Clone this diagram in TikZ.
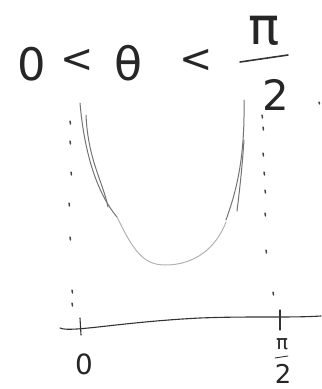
\documentclass[tikz,border=0pt]{standalone}
\usepackage{fontspec}
\setmainfont{DejaVu Sans}
\begin{document}
\begin{tikzpicture}[x=1bp,y=-1bp,
  ink/.style={draw=black!80, line width=1.1bp, line cap=round},
  pencil/.style={draw=black!55, line width=1bp, line cap=round},
  faint/.style={draw=black!30, line width=1bp, line cap=round},
  tick/.style={draw=black!75, line width=1.4bp, line cap=round},
  glyph/.style={inner sep=0pt, text=black!85}]
\useasboundingbox (0,0) rectangle (322,389);
% title
\node[glyph, font=\fontsize{45}{47}\selectfont] (zero) at (32,64) {0};
\node[glyph, font=\fontsize{40}{42}\selectfont] (lt1) at (77,61) {<};
\node[glyph, font=\fontsize{46}{48}\selectfont] (theta) at (129,63) {θ};
\node[glyph, font=\fontsize{40}{42}\selectfont] (lt2) at (196,61) {<};
\node[glyph, font=\fontsize{52}{54}\selectfont] (pi) at (264,31) {π};
\coordinate (barL) at (240,62);
\coordinate (barR) at (288,55);
\draw[ink, line width=1.6bp] (barL) -- (barR);
\node[glyph, font=\fontsize{42}{44}\selectfont] (two) at (276,95) {2};
% left dotted line
\foreach \y/\x in {121/70,141/70,172/71,203/69,237/70,290/72,303/72}
  \draw[tick] (\x,\y) -- (\x+0.5,\y+3);
% right dotted line
\foreach \y/\x in {115/262,127/263,153/263,172/264,190/265,213/265,250/266,292/273}
  \draw[tick] (\x,\y) -- (\x+0.5,\y+3);
% curve
\draw[pencil] (80,103) .. controls (84,150) and (96,192) .. (117,217);
\draw[pencil] (86,115) .. controls (88,160) and (103,182) .. (108,207);
\draw[faint] (117,217) .. controls (133,250) and (143,265) .. (165,265) .. controls (195,265) and (216,248) .. (226,222);
\draw[pencil] (244,100) .. controls (245,160) and (236,192) .. (226,220);
\draw[pencil] (244,140) .. controls (242,170) and (239,195) .. (237,211);
% axis
\coordinate (axL) at (60,328);
\coordinate (axR) at (321,316);
\draw[ink] (axL) .. controls (70,333) and (120,322) .. (200,318) .. controls (250,316) and (290,318) .. (axR);
\draw[ink] (80,318) -- (81,335);
\draw[ink] (280,310) -- (280,330);
\node[glyph, font=\fontsize{28}{30}\selectfont] (lab0) at (84,364) {0};
\node[glyph, font=\fontsize{20}{22}\selectfont] (labpi) at (282,344) {π};
\draw[ink, line width=0.9bp] (275,358) -- (288,356);
\node[glyph, font=\fontsize{26}{28}\selectfont] (lab2) at (283,374) {2};
% stray dot
\draw[tick] (319,102) -- (319.5,104);
\end{tikzpicture}
\end{document}
